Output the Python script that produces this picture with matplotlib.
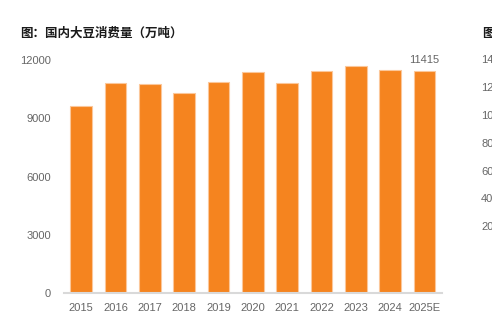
import matplotlib
matplotlib.use("Agg")
import matplotlib.pyplot as plt

plt.rcParams['font.family'] = ['Liberation Sans', 'Noto Sans CJK SC', 'DejaVu Sans']

# data
years = ['2015', '2016', '2017', '2018', '2019', '2020', '2021', '2022', '2023', '2024', '2025E']
consumption = [9640, 10820, 10740, 10290, 10860, 11360, 10820, 11410, 11700, 11460, 11415]
y_ticks = [0, 3000, 6000, 9000, 12000]
title = '图：国内大豆消费量（万吨）'

# partially visible neighbour chart on the right edge
next_title = '图'
next_ticks = ['140', '120', '100', '80', '60', '40', '20']

fig = plt.figure(figsize=(4.92, 3.26), dpi=100)
ax = fig.add_axes([0.130, 0.101, 0.768, 0.715])

x = range(len(years))
ax.bar(x, consumption, width=0.63, color='#F5841F', edgecolor='#FBC79A', linewidth=0.8)

ax.set_xlim(-0.5, len(years) - 0.5)
ax.set_ylim(0, 12000)
ax.set_yticks(y_ticks)
ax.set_yticklabels([str(v) for v in y_ticks])
ax.set_xticks(list(x))
ax.set_xticklabels(years)
ax.tick_params(axis='both', length=0, labelsize=8, labelcolor='#666666')
ax.tick_params(axis='y', pad=9.5)
ax.tick_params(axis='x', pad=7)

for s in ['top', 'right', 'left']:
    ax.spines[s].set_visible(False)
ax.spines['bottom'].set_color('#D9D9D9')
ax.spines['bottom'].set_linewidth(1.5)

# label on the last bar
ax.annotate(str(consumption[-1]), (len(years) - 1, consumption[-1]), xytext=(0, 4.5),
            textcoords='offset points', ha='center', va='bottom', fontsize=8, color='#666666')

fig.text(20 / 492, 1 - 33 / 326, title, fontsize=9, fontweight='bold', color='#1a1a1a',
         family=['Noto Sans CJK SC', 'DejaVu Sans'], va='center', ha='left')

fig.text(482 / 492, 1 - 33 / 326, next_title, fontsize=9, fontweight='bold', color='#1a1a1a',
         family=['Noto Sans CJK SC', 'DejaVu Sans'], va='center', ha='left')
for i, t in enumerate(next_ticks):
    ypix = 60 + i * 27.9
    fig.text(481 / 492, 1 - ypix / 326, t, fontsize=8, color='#666666', va='center', ha='left')

fig.savefig('out.png', dpi=100)
